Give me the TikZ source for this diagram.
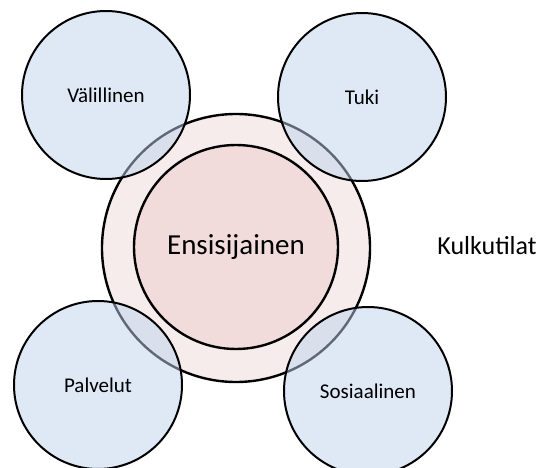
\documentclass[tikz,border=0pt]{standalone}
\usepackage{fontspec}
\setmainfont{Carlito}
\definecolor{ringpink}{RGB}{247,236,236}
\definecolor{corepink}{RGB}{241,219,219}
\definecolor{satblue}{RGB}{191,211,237}
\begin{document}
\begin{tikzpicture}[x=1pt,y=1pt,
  ring/.style={circle,draw=black,line width=2.4pt,fill=ringpink,inner sep=0pt},
  core/.style={circle,draw=black,line width=2.4pt,fill=corepink,inner sep=0pt,font=\fontsize{29}{33}\selectfont},
  satellite/.style={circle,draw=black,line width=2pt,fill=satblue,fill opacity=0.5,text opacity=1,draw opacity=1,inner sep=0pt,minimum size=168pt,font=\fontsize{21}{25}\selectfont}]
\useasboundingbox (0,0) rectangle (539,467);
% central rings
\node[ring,minimum size=268pt] (outer) at (236,219) {};
\node[core,minimum size=204pt] (inner) at (236,220) {Ensisijainen};
% surrounding circles
\node[satellite] (valillinen) at (106,372) {Välillinen};
\node[satellite] (tuki) at (362,370) {Tuki};
\node[satellite] (palvelut) at (98,82) {Palvelut};
\node[satellite] (sosiaalinen) at (368,76) {Sosiaalinen};
% side label
\node[font=\fontsize{26}{30}\selectfont,inner sep=0pt] (kulkutilat) at (487,221) {Kulkutilat};
\end{tikzpicture}
\end{document}
